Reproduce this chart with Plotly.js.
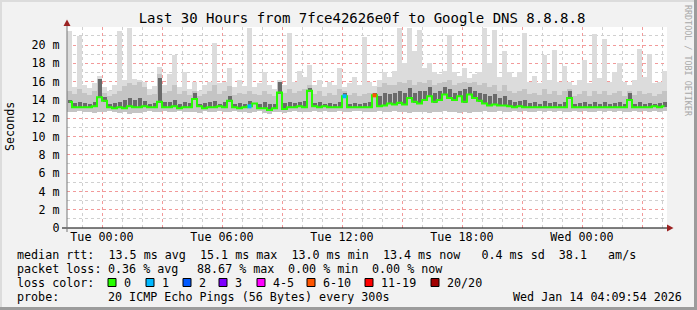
<!DOCTYPE html>
<html><head><meta charset="utf-8">
<script src="https://cdn.plot.ly/plotly-3.0.1.min.js"></script>
<style>
html,body{margin:0;padding:0;background:#f2f2f2;}
#wrap{position:relative;width:697px;height:310px;overflow:hidden;}
#chart{position:absolute;left:0;top:0;width:697px;height:310px;}
.b{position:absolute;pointer-events:none;}
#wm{position:absolute;left:692px;top:5px;transform:rotate(90deg);transform-origin:0 0;font-family:'DejaVu Sans Mono',monospace;font-size:8.4px;line-height:9px;letter-spacing:0;color:#a8a8a8;white-space:nowrap;pointer-events:none;}
</style></head>
<body><div id="wrap"><div id="chart"></div>
<div class="b" style="left:0;top:0;width:697px;height:2px;background:#dcdcdc"></div>
<div class="b" style="left:0;top:0;width:2px;height:310px;background:#dcdcdc"></div>
<div class="b" style="left:694px;top:0;width:3px;height:310px;background:#9c9c9c"></div>
<div class="b" style="left:0;top:307px;width:697px;height:3px;background:#9c9c9c"></div>
<div id="wm">RRDTOOL / TOBI OETIKER</div>
</div>
<script>
// ---- data (ms) : 120 buckets of 15 minutes ----
const maxv = [21.5,15.4,21.0,15.6,15.3,15.8,16.6,15.4,15.0,15.6,
 21.5,16.2,21.9,16.3,16.2,16.0,15.2,15.5,17.6,15.6,
 16.8,18.9,15.4,17.0,15.2,16.0,15.0,15.6,16.0,20.2,
 15.8,16.0,17.5,15.4,16.2,15.5,21.9,15.4,15.8,17.0,
 15.6,15.2,16.2,15.6,21.3,16.0,17.2,16.5,17.8,15.6,
 16.2,15.4,16.0,15.6,17.5,15.4,15.8,16.5,15.6,20.9,
 16.0,15.5,16.2,17.0,16.5,17.2,21.9,18.0,21.9,19.3,
 21.6,17.5,18.0,17.0,16.8,17.2,21.1,17.0,16.6,17.5,
 16.4,16.8,17.0,21.9,18.0,21.6,16.5,19.3,17.0,16.5,
 17.0,21.3,16.0,16.6,15.8,18.9,16.2,19.5,16.0,17.7,
 16.0,15.6,16.2,18.4,15.8,21.2,16.4,20.7,16.0,17.0,
 18.0,16.0,15.6,16.2,19.6,16.5,19.0,15.8,16.0,17.2];
const hiv = [15.0,14.6,15.2,14.8,14.5,15.0,16.3,14.8,14.4,14.6,
 15.0,15.5,15.8,15.6,16.0,15.4,14.5,14.6,16.8,14.8,
 15.0,15.6,14.6,15.0,14.5,15.0,14.4,14.6,15.0,15.6,
 14.6,15.0,15.5,14.5,14.8,14.6,15.0,14.6,14.5,15.0,
 14.6,14.4,16.0,14.8,15.2,14.8,15.0,15.2,15.6,14.6,
 15.0,14.4,14.8,14.5,15.2,15.0,14.5,14.8,14.4,14.6,
 14.8,14.8,15.4,15.8,15.6,15.6,16.0,15.8,16.2,15.6,
 16.0,15.8,16.2,15.6,15.8,16.0,16.2,15.6,15.8,16.0,
 15.8,16.0,15.6,15.8,15.4,15.6,15.0,15.6,15.0,14.8,
 15.0,15.2,14.6,14.8,14.5,15.2,14.6,15.0,14.5,15.0,
 15.2,14.4,14.6,15.0,14.4,15.0,14.6,15.0,14.5,14.8,
 15.0,14.4,15.0,14.5,15.0,14.6,14.8,14.4,14.6,15.0];
const darkv = [14.0,13.7,13.8,13.7,13.6,13.8,16.3,14.3,13.6,13.7,
 13.8,14.0,14.2,14.0,14.2,13.9,13.6,13.7,16.4,13.8,
 13.8,14.0,13.6,13.8,13.7,14.8,13.6,13.7,13.8,13.9,
 13.6,13.8,14.4,13.6,13.7,13.6,13.9,13.7,13.6,13.8,
 13.6,13.5,16.0,13.7,13.8,13.7,13.8,13.9,15.3,13.7,
 13.8,13.6,13.7,13.6,13.8,14.8,13.6,13.7,13.6,13.7,
 13.8,14.8,14.4,14.8,14.6,14.8,15.0,14.8,15.3,14.8,
 15.0,15.0,15.4,14.8,15.0,15.4,15.2,14.8,15.0,15.2,
 15.4,15.0,14.8,14.6,14.4,14.6,14.2,14.4,14.0,13.8,
 13.9,14.0,13.7,13.8,13.6,13.9,13.7,13.8,13.6,13.8,
 15.0,13.6,13.7,13.8,13.6,13.8,13.6,13.8,13.6,13.7,
 13.8,13.6,14.8,13.6,13.8,13.6,13.7,13.6,13.7,13.8];
const med = [13.8,13.2,13.2,13.2,13.2,13.3,14.3,13.9,13.2,13.1,
 13.2,13.1,13.3,13.2,13.2,13.3,13.2,13.2,13.8,13.2,
 13.2,13.3,13.1,13.2,13.2,14.1,13.3,13.1,13.2,13.2,
 13.3,13.2,13.9,13.2,13.1,13.2,13.3,13.6,13.1,13.1,
 12.9,13.1,14.8,13.0,13.2,13.2,13.3,13.2,15.0,13.3,
 13.2,13.3,13.2,13.2,13.2,14.4,13.2,13.2,13.2,13.2,
 13.2,14.5,13.3,13.4,13.6,13.5,13.7,13.5,14.2,13.8,
 13.6,14.0,14.4,13.8,14.0,14.6,14.2,14.0,14.4,13.8,
 14.6,14.2,13.9,13.6,13.4,13.5,13.4,13.4,13.3,13.2,
 13.3,13.2,13.2,13.2,13.2,13.2,13.2,13.2,13.2,13.2,
 14.2,13.2,13.2,13.2,13.2,13.2,13.2,13.2,13.2,13.2,
 13.2,13.2,14.0,13.2,13.2,13.2,13.2,13.3,13.2,13.3];
const minv = [12.7,12.7,12.8,12.7,12.7,12.6,12.7,12.7,12.8,12.7,
 12.6,12.7,12.5,12.6,12.6,12.7,12.8,12.7,12.7,12.8,
 12.7,12.7,12.8,12.7,12.7,12.7,12.6,12.8,12.7,12.7,
 12.8,12.7,12.7,12.8,12.7,12.7,12.6,12.7,12.8,12.6,
 12.5,12.7,12.7,12.6,12.7,12.8,12.7,12.7,12.7,12.8,
 12.7,12.8,12.7,12.7,12.8,12.7,12.7,12.8,12.8,12.7,
 12.7,12.7,12.8,12.7,12.7,12.8,12.7,12.7,12.6,12.7,
 12.7,12.7,12.6,12.7,12.7,12.8,12.7,12.7,12.6,12.7,
 12.6,12.7,12.7,12.8,12.7,12.7,12.8,12.7,12.7,12.8,
 12.7,12.8,12.7,12.7,12.8,12.7,12.8,12.7,12.8,12.7,
 12.7,12.8,12.7,12.8,12.7,12.7,12.8,12.7,12.8,12.7,
 12.8,12.7,12.7,12.8,12.7,12.8,12.7,12.8,12.7,12.8];
const lossBucket = [36, 55, 61];
const lossCount = [1, 1, 6];
const xTickLabels = ['Tue 00:00','','Tue 06:00','','Tue 12:00','','Tue 18:00','','Wed 00:00',''];
const yTickVals = [0,2,4,6,8,10,12,14,16,18,20];
const yTickText = ['0','2 m','4 m','6 m','8 m','10 m','12 m','14 m','16 m','18 m','20 m'];
const lossLabels = ['0','1','2','3','4-5','6-10','11-19','20/20'];
const lossLegendColors = ['#26ff00','#00b8ff','#0059ff','#7e00ff','#ff00ff','#ff5500','#ff0000','#a10000'];
const statsLine = 'median rtt:  13.5 ms avg  15.1 ms max  13.0 ms min  13.4 ms now   0.4 ms sd  38.1   am/s';
const lossTokens = ['packet loss:','0.36 % avg','88.67 % max','0.00 % min','0.00 % now'];
const probeLabel = 'probe:';
const probeText = '20 ICMP Echo Pings (56 Bytes) every 300s';
const stampText = 'Wed Jan 14 04:09:54 2026';
const titleText = 'Last 30 Hours from 7fce42626e0f to Google DNS 8.8.8.8';

// ---- time grid ----
const START = Date.UTC(2026,0,12,22,15);
const STEP = 15*60*1000;
const END = START + 30*3600*1000;
const times = med.map((_, i) => START + (i + 0.5) * STEP);
const tickVals = xTickLabels.map((_, i) => Date.UTC(2026,0,13,0) + i*3*3600*1000);

function lossColor(n){
  if(n===0) return lossLegendColors[0];
  if(n===1) return lossLegendColors[1];
  if(n===2) return lossLegendColors[2];
  if(n===3) return lossLegendColors[3];
  if(n<=5) return lossLegendColors[4];
  if(n<=10) return lossLegendColors[5];
  if(n<=19) return lossLegendColors[6];
  return lossLegendColors[7];
}

const darkBase = med.map(v => v - 0.1);
const traces = [
  {type:'bar', x:times, base:minv, y:maxv.map((v,i)=>v-minv[i]), width:STEP,
   marker:{color:'#dcdcdc', line:{width:0}}, hoverinfo:'skip'},
  {type:'bar', x:times, base:minv, y:hiv.map((v,i)=>v-minv[i]), width:STEP,
   marker:{color:'#c4c4c4', line:{width:0}}, hoverinfo:'skip'},
  {type:'bar', x:times, base:darkBase, y:darkv.map((v,i)=>v-darkBase[i]), width:STEP*0.8,
   marker:{color:'#6a6a6a', line:{width:0}}, hoverinfo:'skip'},
  {type:'scatter', mode:'lines', x:times, y:med,
   line:{color:'#26ff00', width:2, shape:'hvh'}, hoverinfo:'skip'},
  {type:'scatter', mode:'markers', x:lossBucket.map(i=>times[i]), y:lossBucket.map(i=>med[i]),
   marker:{symbol:'square', size:4, color:lossCount.map(lossColor)}, hoverinfo:'skip'}
];

// pixel -> paper helpers (plot area: x 67..667, y 27..228)
const PX = p => (p - 67) / 600;
const PY = p => (228 - p) / 201;
const mono = 'DejaVu Sans Mono, monospace';
const F = {family:mono, size:11.7, color:'#000'};

const shapes = [
  {type:'line', xref:'paper', yref:'paper', x0:PX(62), x1:PX(670), y0:0, y1:0, line:{color:'#000', width:1}},
  {type:'line', xref:'paper', yref:'paper', x0:0, x1:0, y0:PY(232), y1:PY(24), line:{color:'#777', width:1}},
  {type:'path', xref:'paper', yref:'paper', path:`M ${PX(63.5)},${PY(26)} L ${PX(67)},${PY(19.5)} L ${PX(70.5)},${PY(26)} Z`, fillcolor:'#9b2222', line:{width:0}},
  {type:'path', xref:'paper', yref:'paper', path:`M ${PX(667)},${PY(224.5)} L ${PX(673.5)},${PY(228)} L ${PX(667)},${PY(231.5)} Z`, fillcolor:'#9b2222', line:{width:0}}
];
const boxX = [108,146,183,219,257,307,365,431];
const annotations = [
  {xref:'paper', yref:'paper', x:PX(10), y:PY(127), text:'Seconds', textangle:-90, showarrow:false, font:F, xanchor:'center', yanchor:'middle'},
  {xref:'paper', yref:'paper', x:PX(16), y:PY(254.5), text:statsLine, showarrow:false, font:F, xanchor:'left', yanchor:'middle', borderpad:0},
  {xref:'paper', yref:'paper', x:PX(16), y:PY(296.5), text:probeLabel, showarrow:false, font:F, xanchor:'left', yanchor:'middle', borderpad:0},
  {xref:'paper', yref:'paper', x:PX(107), y:PY(296.5), text:probeText, showarrow:false, font:F, xanchor:'left', yanchor:'middle', borderpad:0},
  {xref:'paper', yref:'paper', x:PX(512), y:PY(296.5), text:stampText, showarrow:false, font:F, xanchor:'left', yanchor:'middle', borderpad:0},
  {xref:'paper', yref:'paper', x:PX(16), y:PY(282.5), text:'loss color:', showarrow:false, font:F, xanchor:'left', yanchor:'middle', borderpad:0}
];
const lossX = [16,107,196,287,371];
lossTokens.forEach((t,i)=>annotations.push({xref:'paper', yref:'paper', x:PX(lossX[i]), y:PY(268.5), text:t, showarrow:false, font:F, xanchor:'left', yanchor:'middle', borderpad:0}));
lossLabels.forEach((t,i)=>{
  shapes.push({type:'rect', xref:'paper', yref:'paper', x0:PX(boxX[i]), x1:PX(boxX[i]+8), y0:PY(286.5), y1:PY(278.5),
    fillcolor:lossLegendColors[i], line:{color:'#000', width:1}});
  annotations.push({xref:'paper', yref:'paper', x:PX(boxX[i]+15), y:PY(282.5), text:t, showarrow:false, font:F, xanchor:'left', yanchor:'middle', borderpad:0});
});

const layout = {
  width:697, height:310,
  margin:{l:67, r:30, t:27, b:82, pad:0},
  paper_bgcolor:'#f2f2f2', plot_bgcolor:'#ffffff',
  showlegend:false, barmode:'overlay', bargap:0,
  font:F,
  title:{text:titleText, font:{family:mono, size:14, color:'#000'}, xref:'container', yref:'container', x:362/697, y:1-18/310, xanchor:'center', yanchor:'middle'},
  xaxis:{type:'date', range:[START, END], tickmode:'array', tickvals:tickVals, ticktext:xTickLabels,
    showgrid:true, gridcolor:'#f29a9a', griddash:'dot', gridwidth:1, zeroline:false, showline:false, ticks:'',
    tickfont:F, fixedrange:true,
    minor:{tick0:Date.UTC(2026,0,13,0), dtick:3600000, showgrid:true, gridcolor:'#d0d0d0', griddash:'dot', gridwidth:1, ticks:''}},
  yaxis:{range:[0, 21.97], tickmode:'array', tickvals:yTickVals, ticktext:yTickText,
    showgrid:true, gridcolor:'#f29a9a', griddash:'dot', gridwidth:1, zeroline:false, showline:false,
    ticks:'outside', ticklen:4, tickcolor:'rgba(0,0,0,0)', tickfont:F, fixedrange:true,
    minor:{dtick:1, tick0:0, showgrid:true, gridcolor:'#d0d0d0', griddash:'dot', gridwidth:1, ticks:''}},
  shapes:shapes, annotations:annotations
};
Plotly.newPlot('chart', traces, layout, {displayModeBar:false, staticPlot:true});
</script>
</body></html>
